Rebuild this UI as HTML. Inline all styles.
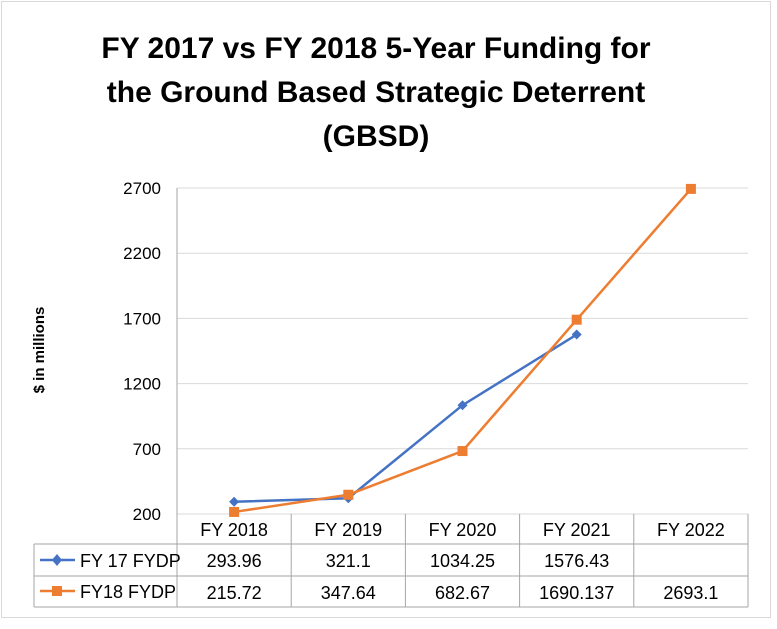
<!DOCTYPE html>
<html><head><meta charset="utf-8"><style>
html,body{margin:0;padding:0;background:#fff;}
svg text{font-family:"Liberation Sans",Arial,sans-serif;}
</style></head><body>
<svg width="777" height="624" xmlns="http://www.w3.org/2000/svg">
<rect x="1.5" y="1.5" width="769" height="616" fill="#fff" stroke="#d9d9d9"/>
<g font-weight="bold" font-size="30" text-anchor="middle" fill="#000">
<text x="376" y="58">FY 2017 vs FY 2018 5-Year Funding for</text>
<text x="376" y="102">the Ground Based Strategic Deterrent</text>
<text x="376" y="146">(GBSD)</text>
</g>
<text transform="translate(44,350) rotate(-90)" text-anchor="middle" font-size="15" font-weight="bold">$ in millions</text>
<g id="grid"></g><g id="ylabels"></g><g id="table"></g><g id="series"></g>
<script>
const categories=["FY 2018","FY 2019","FY 2020","FY 2021","FY 2022"];
const seriesNames=["FY 17 FYDP","FY18 FYDP"];
const fy17=[293.96,321.1,1034.25,1576.43,null];
const fy18=[215.72,347.64,682.67,1690.137,2693.1];
const fy17Labels=["293.96","321.1","1034.25","1576.43",""];
const fy18Labels=["215.72","347.64","682.67","1690.137","2693.1"];
const yTicks=[200,700,1200,1700,2200,2700];
const NS="http://www.w3.org/2000/svg";
const L=177,R=748,T=188,B=514,minY=200,maxY=2700;
const colW=(R-L)/categories.length;
function y(v){return B-(v-minY)/(maxY-minY)*(B-T);}
function x(i){return L+colW*(i+0.5);}
function mk(tag,a,p,txt){const e=document.createElementNS(NS,tag);for(const k in a)e.setAttribute(k,a[k]);if(txt!==undefined)e.textContent=txt;p.appendChild(e);return e;}
const grid=document.getElementById('grid'),yl=document.getElementById('ylabels');
yTicks.forEach(t=>{
 const g=mk('line',{x1:L,x2:R,y1:y(t),y2:y(t),stroke:'#d9d9d9','stroke-width':1},grid);
 
 
 const lb=mk('text',{x:161,y:y(t)+6,'text-anchor':'end','font-size':17},yl,String(t));
 
 
});
const tb=document.getElementById('table');
const TL=34,r0=514,r1=544,r2=576,r3=607,st='#a6a6a6';
mk('line',{x1:L,x2:L,y1:T,y2:r3,stroke:st},tb);
mk('line',{x1:TL,x2:R,y1:r1,y2:r1,stroke:st},tb);
mk('line',{x1:TL,x2:R,y1:r2,y2:r2,stroke:st},tb);
mk('line',{x1:TL,x2:R,y1:r3,y2:r3,stroke:st},tb);
mk('line',{x1:TL,x2:TL,y1:r1,y2:r3,stroke:st},tb);
for(let i=1;i<=categories.length;i++)mk('line',{x1:L+colW*i,x2:L+colW*i,y1:r0,y2:r3,stroke:st},tb);
categories.forEach((c,i)=>{
 const e=mk('text',{x:x(i),y:r0+22,'text-anchor':'middle','font-size':18},tb,c);
 
 
 const a=mk('text',{x:x(i),y:r1+23,'text-anchor':'middle','font-size':18},tb,fy17Labels[i]);
 
 
 const b=mk('text',{x:x(i),y:r2+23,'text-anchor':'middle','font-size':18},tb,fy18Labels[i]);
 
 
});
mk('line',{x1:40,x2:75,y1:r1+16,y2:r1+16,stroke:'#4472c4','stroke-width':2.5},tb);
mk('polygon',{points:'57,554 62,560 57,566 52,560',fill:'#4472c4'},tb);
const l1=mk('text',{x:80,y:r1+23,'font-size':18},tb,seriesNames[0]);


mk('line',{x1:40,x2:75,y1:r2+15,y2:r2+15,stroke:'#ed7d31','stroke-width':2.5},tb);
mk('rect',{x:52,y:r2+10,width:10,height:10,fill:'#ed7d31'},tb);
const l2=mk('text',{x:80,y:r2+22,'font-size':18},tb,seriesNames[1]);


const sg=document.getElementById('series');
function draw(vals,color,marker,name){
 const pts=vals.map((v,i)=>v==null?null:[x(i),y(v)]).filter(p=>p);
 const pl=mk('polyline',{points:pts.map(p=>p.join(',')).join(' '),fill:'none',stroke:color,'stroke-width':2.5},sg);
 
 
 pts.forEach(p=>{
  let m;
  if(marker==='d')m=mk('polygon',{points:`${p[0]},${p[1]-5} ${p[0]+5},${p[1]} ${p[0]},${p[1]+5} ${p[0]-5},${p[1]}`,fill:color},sg);
  else m=mk('rect',{x:p[0]-5,y:p[1]-5,width:10,height:10,fill:color},sg);
  
  
 });
}
draw(fy17,'#4472c4','d','fy17');
draw(fy18,'#ed7d31','s','fy18');
</script>
</svg>
</body></html>
